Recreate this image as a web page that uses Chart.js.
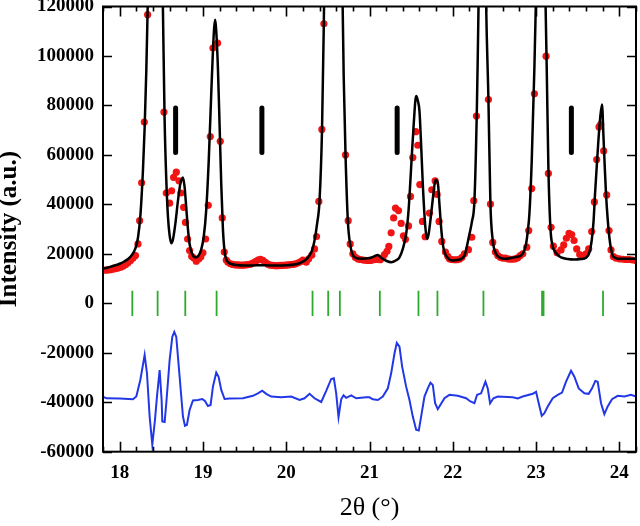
<!DOCTYPE html>
<html>
<head>
<meta charset="utf-8">
<script src="https://cdn.jsdelivr.net/npm/chart.js@4.4.0/dist/chart.umd.min.js"></script>
<style>
html,body{margin:0;padding:0;background:#fff;}
#wrap{width:640px;height:526px;}
</style>
</head>
<body>
<div id="wrap"><canvas id="xrd" width="640" height="526"></canvas></div>
<script>
// axis ticks
const xMajor = [18,19,20,21,22,23,24];
const yTicks = [-60000,-40000,-20000,0,20000,40000,60000,80000,100000,120000];

// bragg reflections (green) and marked peaks (black bars)
const braggPos = [18.152,18.456,18.788,19.164,20.316,20.504,20.644,21.124,21.588,21.816,22.368,23.072,23.09,23.804];
const markPos = [18.672,19.708,21.332,23.424];

// observed intensity [2theta, counts]
const observed = [
  [17.80,13400],[17.83,13400],[17.86,13500],[17.89,13600],[17.92,13800],[17.95,14000],[17.98,14300],
  [18.01,14600],[18.04,15000],[18.07,15600],[18.10,16400],[18.13,17300],[18.16,18300],[18.19,19300],
  [18.22,24000],[18.24,33400],[18.264,48700],[18.296,73300],[18.336,116700],[18.37,170000],[18.40,230000],
  [18.43,260000],[18.46,240000],[18.49,170000],[18.532,77300],[18.56,44600],[18.60,40500],[18.624,45500],
  [18.648,50900],[18.68,53000],[18.712,49500],[18.736,44600],[18.768,38800],[18.79,32700],[18.816,26000],
  [18.84,21300],[18.865,19000],[18.888,18400],[18.92,17000],[18.952,18000],[18.975,18800],[19.00,20400],
  [19.032,26000],[19.064,39600],[19.088,67400],[19.12,103200],[19.176,105200],[19.208,65500],[19.232,34500],
  [19.256,20700],[19.28,17500],[19.30,16600],[19.33,16000],[19.36,15700],[19.39,15500],[19.42,15500],
  [19.45,15400],[19.48,15400],[19.51,15500],[19.54,15600],[19.57,15800],[19.60,16300],[19.63,16900],
  [19.66,17500],[19.69,17800],[19.72,17400],[19.75,16600],[19.78,15800],[19.81,15400],[19.84,15300],
  [19.87,15200],[19.90,15200],[19.93,15300],[19.96,15300],[19.99,15400],[20.02,15500],[20.05,15600],
  [20.08,15700],[20.11,15900],[20.14,16300],[20.17,16800],[20.20,17500],[20.24,16600],[20.27,18000],
  [20.308,19500],[20.34,22000],[20.364,27000],[20.392,41200],[20.428,70300],[20.452,113000],[20.48,170000],
  [20.52,210000],[20.56,200000],[20.60,190000],[20.64,200000],[20.68,130000],[20.712,60000],[20.744,33400],
  [20.768,24000],[20.80,20000],[20.83,18600],[20.86,18000],[20.89,17700],[20.92,17500],[20.95,17400],
  [20.98,17300],[21.01,17300],[21.04,17500],[21.07,17700],[21.10,17800],[21.13,17600],[21.16,18500],
  [21.18,19700],[21.21,21000],[21.232,23000],[21.26,28500],[21.29,34500],[21.312,38500],[21.348,37500],
  [21.38,32300],[21.408,27300],[21.432,25900],[21.468,31300],[21.492,43200],[21.52,58900],[21.556,69400],
  [21.58,63900],[21.604,48000],[21.636,33100],[21.668,26900],[21.72,36500],[21.748,45900],[21.788,49500],
  [21.812,44000],[21.836,33100],[21.868,25000],[21.912,20700],[21.94,19000],[21.96,18000],[21.99,17700],
  [22.02,17600],[22.05,17600],[22.08,17800],[22.11,18600],[22.14,20000],[22.188,21700],[22.228,26700],
  [22.252,41500],[22.284,75700],[22.31,130000],[22.34,200000],[22.37,210000],[22.40,140000],[22.428,82400],
  [22.452,40100],[22.48,24600],[22.512,20700],[22.54,19300],[22.57,18600],[22.60,18300],[22.63,18300],
  [22.66,18000],[22.69,17800],[22.72,17800],[22.75,18000],[22.78,18400],[22.81,19300],[22.84,20000],
  [22.888,22700],[22.912,29400],[22.948,46400],[22.98,84700],[23.01,150000],[23.04,200000],[23.07,210000],
  [23.10,160000],[23.12,99900],[23.148,52500],[23.18,30700],[23.208,23100],[23.252,20400],[23.30,21600],
  [23.332,23600],[23.364,26300],[23.396,28300],[23.428,27800],[23.456,25400],[23.488,22000],[23.524,19700],
  [23.572,19300],[23.60,20000],[23.632,22000],[23.668,29000],[23.70,41000],[23.728,58100],[23.756,71300],
  [23.776,72400],[23.812,61600],[23.848,43800],[23.876,29400],[23.90,21600],[23.928,18900],[23.96,18300],
  [24.00,18000],[24.04,17800],[24.08,17700],[24.12,17700],[24.16,17500],[24.20,17300]
];

// calculated profile
const calculated = [
  [17.80,14000],[17.85,14400],[17.90,14900],[17.95,15400],[18.00,16000],[18.05,16800],[18.10,17900],
  [18.15,19700],[18.19,22300],[18.22,26500],[18.25,36000],[18.28,54000],[18.30,71000],[18.32,94000],
  [18.34,125000],[18.37,185000],[18.40,240000],[18.43,265000],[18.46,245000],[18.49,180000],[18.52,118000],
  [18.54,74000],[18.56,50000],[18.58,35000],[18.60,27500],[18.62,24300],[18.64,25800],[18.67,32500],
  [18.70,41500],[18.73,48500],[18.76,50900],[18.78,47000],[18.80,38500],[18.82,30000],[18.84,24000],
  [18.87,20000],[18.90,18700],[18.92,18600],[18.95,19400],[18.98,21800],[19.01,27000],[19.04,38000],
  [19.07,58000],[19.10,85000],[19.12,102000],[19.135,111500],[19.148,114600],[19.16,110000],[19.18,95000],
  [19.20,72000],[19.22,48000],[19.24,30000],[19.26,21000],[19.28,17800],[19.31,16400],[19.35,15800],
  [19.40,15500],[19.50,15300],[19.60,15300],[19.70,15400],[19.80,15300],[19.90,15300],[20.00,15400],
  [20.10,15700],[20.16,16200],[20.22,17200],[20.27,18900],[20.31,21400],[20.34,25400],[20.37,32000],
  [20.40,41500],[20.43,70300],[20.45,110000],[20.47,160000],[20.50,215000],[20.55,200000],[20.60,190000],
  [20.64,205000],[20.665,150000],[20.69,92000],[20.712,60300],[20.74,33400],[20.77,23400],[20.82,18600],
  [20.90,18000],[21.00,18300],[21.05,18900],[21.10,19500],[21.14,18400],[21.20,17200],[21.26,16600],
  [21.32,17400],[21.36,18600],[21.40,22000],[21.44,28000],[21.47,38000],[21.50,54900],[21.53,72000],
  [21.56,83800],[21.58,82000],[21.60,77700],[21.62,64000],[21.64,48200],[21.67,31000],[21.692,26000],
  [21.71,28000],[21.74,36100],[21.77,45000],[21.792,49900],[21.82,48800],[21.84,40000],[21.86,30700],
  [21.88,24000],[21.90,20700],[21.95,18000],[22.00,17300],[22.07,17600],[22.14,19300],[22.20,28000],
  [22.23,33000],[22.26,41500],[22.288,76400],[22.30,100000],[22.31,122000],[22.33,180000],[22.355,210000],
  [22.38,180000],[22.40,122000],[22.428,82400],[22.452,40100],[22.48,25400],[22.52,20000],[22.58,18300],
  [22.64,18000],[22.70,18300],[22.76,18700],[22.82,19300],[22.86,21500],[22.88,24000],[22.90,29000],
  [22.92,36100],[22.948,57600],[22.98,95200],[23.00,125000],[23.03,180000],[23.06,200000],[23.09,185000],
  [23.112,125000],[23.128,95200],[23.148,54900],[23.172,30700],[23.20,23000],[23.22,21300],[23.26,19500],
  [23.30,18600],[23.38,17900],[23.46,17700],[23.54,17900],[23.60,18400],[23.64,20500],[23.668,25400],
  [23.69,33000],[23.708,44200],[23.728,55000],[23.748,65600],[23.77,75000],[23.792,80400],[23.81,67000],
  [23.825,55000],[23.84,44200],[23.86,34000],[23.88,26700],[23.90,22000],[23.92,19300],[23.96,18300],
  [24.00,18000],[24.10,18000],[24.20,18000]
];

// difference curve (offset)
const difference = [
  [17.80,-37700],[17.84,-38400],[18.00,-38500],[18.16,-38800],[18.20,-37700],[18.248,-31000],[18.30,-20900],
  [18.328,-28300],[18.36,-45800],[18.392,-57200],[18.424,-47100],[18.448,-37700],[18.48,-27000],[18.504,-39100],
  [18.512,-47800],[18.54,-48000],[18.56,-40400],[18.60,-23000],[18.632,-13600],[18.656,-11600],[18.68,-13600],
  [18.72,-29700],[18.76,-45800],[18.784,-49500],[18.808,-49100],[18.84,-43100],[18.88,-39300],[18.94,-39100],
  [18.992,-38700],[19.024,-39500],[19.06,-41500],[19.092,-41100],[19.12,-33700],[19.16,-28000],[19.188,-29700],
  [19.22,-35000],[19.26,-38700],[19.32,-38500],[19.48,-38400],[19.60,-37400],[19.66,-36400],[19.712,-35300],
  [19.76,-36600],[19.82,-37700],[19.94,-38000],[20.06,-37700],[20.16,-39100],[20.22,-38400],[20.28,-36600],
  [20.34,-38400],[20.42,-39900],[20.48,-35400],[20.54,-30600],[20.572,-30300],[20.60,-36400],[20.628,-46000],
  [20.66,-38800],[20.688,-37200],[20.72,-38200],[20.78,-37200],[20.84,-38400],[20.96,-38000],[21.00,-38000],
  [21.04,-38800],[21.10,-39100],[21.16,-37700],[21.22,-34400],[21.26,-28300],[21.30,-20300],[21.328,-16000],
  [21.36,-17500],[21.392,-25600],[21.44,-33700],[21.48,-39100],[21.52,-45800],[21.56,-51100],[21.592,-51400],
  [21.62,-45800],[21.66,-37700],[21.70,-34400],[21.732,-32100],[21.76,-33000],[21.788,-40400],[21.82,-42800],
  [21.852,-41000],[21.90,-38400],[21.96,-37000],[22.06,-37400],[22.16,-38400],[22.212,-39700],[22.26,-40400],
  [22.292,-37000],[22.34,-36400],[22.392,-31700],[22.42,-34400],[22.448,-40400],[22.488,-38400],[22.54,-37700],
  [22.72,-38000],[22.78,-38500],[22.84,-37700],[22.96,-36600],[23.00,-35800],[23.032,-40400],[23.068,-45500],
  [23.10,-44400],[23.14,-41700],[23.20,-38400],[23.26,-37000],[23.312,-36100],[23.36,-31700],[23.42,-27300],
  [23.46,-29700],[23.512,-34400],[23.58,-36400],[23.632,-36600],[23.672,-34400],[23.712,-31400],[23.74,-31700],
  [23.78,-40400],[23.82,-44800],[23.86,-41700],[23.912,-38800],[23.98,-37400],[24.06,-37700],[24.14,-37000],
  [24.20,-37700]
];

const toPts = arr => arr.map(p => ({x: p[0], y: p[1]}));
const braggData = braggPos.flatMap(t => [{x: t, y: -5100}, {x: t, y: 5100}, {x: t, y: null}]);
const markData = markPos.flatMap(t => [{x: t, y: 61000}, {x: t, y: 79000}, {x: t, y: null}]);

const serif = "'Liberation Serif', 'Times New Roman', serif";

// inward ticks on all four sides plus the frame
const framePlugin = {
  id: 'frame',
  afterDatasetsDraw(chart) {
    const {ctx, chartArea: a, scales: {x, y}} = chart;
    ctx.save();
    ctx.strokeStyle = '#000';
    ctx.lineWidth = 1.6;
    ctx.beginPath();
    for (let i = 89; i <= 121; i++) {
      const px = Math.round(x.getPixelForValue(i / 5)) + 0.5;
      const len = i % 5 === 0 ? 10 : 5;
      ctx.moveTo(px, a.bottom); ctx.lineTo(px, a.bottom - len);
      ctx.moveTo(px, a.top); ctx.lineTo(px, a.top + len);
    }
    yTicks.forEach(v => {
      const py = Math.round(y.getPixelForValue(v)) + 0.5;
      ctx.moveTo(a.left, py); ctx.lineTo(a.left + 9, py);
      ctx.moveTo(a.right, py); ctx.lineTo(a.right - 9, py);
    });
    ctx.stroke();
    ctx.lineWidth = 2;
    ctx.strokeRect(a.left, a.top, a.right - a.left, a.bottom - a.top);
    ctx.restore();
  }
};

new Chart(document.getElementById('xrd'), {
  type: 'line',
  data: {
    datasets: [
      {
        label: 'calc',
        data: toPts(calculated),
        borderColor: '#000',
        borderWidth: 2.5,
        pointRadius: 0,
        cubicInterpolationMode: 'monotone',
        order: 1
      },
      {
        label: 'obs',
        data: toPts(observed),
        showLine: false,
        pointRadius: 3.6,
        pointBorderWidth: 0,
        pointBackgroundColor: '#f01414',
        pointBorderColor: '#f01414',
        order: 2
      },
      {
        label: 'diff',
        data: toPts(difference),
        borderColor: '#2238e6',
        borderWidth: 2,
        pointRadius: 0,
        tension: 0,
        order: 3
      },
      {
        label: 'bragg',
        data: braggData,
        borderColor: '#2eaa2e',
        borderWidth: 1.8,
        pointRadius: 0,
        spanGaps: false,
        order: 4
      },
      {
        label: 'marks',
        data: markData,
        borderColor: '#000',
        borderWidth: 5,
        borderCapStyle: 'round',
        pointRadius: 0,
        spanGaps: false,
        order: 0
      }
    ]
  },
  options: {
    responsive: false,
    animation: false,
    devicePixelRatio: 1,
    layout: {padding: {top: 6.5, right: 3, left: 0, bottom: 0}},
    plugins: {legend: {display: false}, tooltip: {enabled: false}},
    scales: {
      x: {
        type: 'linear',
        min: 17.8,
        max: 24.2,
        grid: {display: false, drawTicks: false},
        border: {display: false},
        afterBuildTicks: s => { s.ticks = xMajor.map(v => ({value: v})); },
        afterFit: s => { s.height = 74.3; s.paddingLeft = 0; s.paddingRight = 0; },
        ticks: {
          color: '#000',
          padding: 10,
          maxRotation: 0,
          font: {family: serif, size: 19, weight: 'bold'},
          callback: v => String(v)
        },
        title: {
          display: true,
          text: '2θ (°)',
          color: '#000',
          font: {family: serif, size: 26, weight: 'normal'},
          padding: {top: 0, bottom: 2}
        }
      },
      y: {
        min: -60000,
        max: 120000,
        grid: {display: false, drawTicks: false},
        border: {display: false},
        afterBuildTicks: s => { s.ticks = yTicks.map(v => ({value: v})); },
        afterFit: s => { s.width = 103; s.paddingTop = 0; s.paddingBottom = 0; },
        ticks: {
          color: '#000',
          padding: 9,
          font: {family: serif, size: 19, weight: 'bold'},
          callback: v => String(v)
        },
        title: {
          display: true,
          text: 'Intensity (a.u.)',
          color: '#000',
          font: {family: serif, size: 25, weight: 'bold', lineHeight: 0.8},
          padding: {top: 0, bottom: 0}
        }
      }
    }
  },
  plugins: [framePlugin]
});
</script>
</body>
</html>
